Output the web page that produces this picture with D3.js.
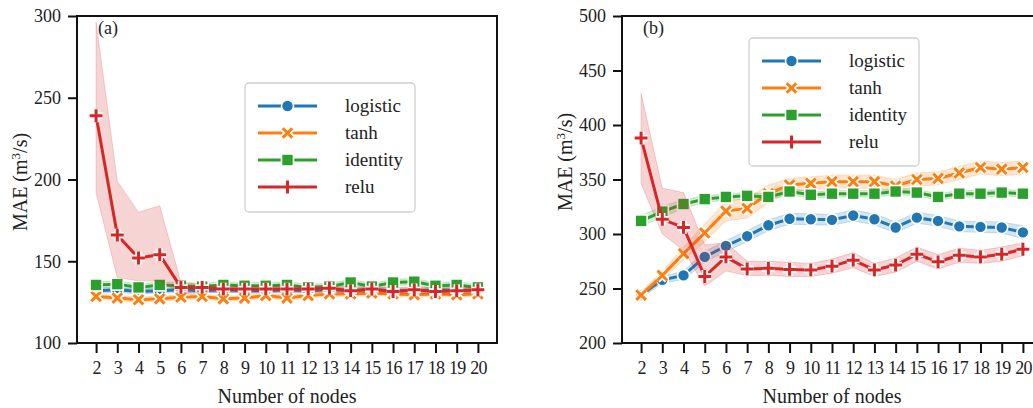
<!DOCTYPE html>
<html>
<head>
<meta charset="utf-8">
<script src="https://cdn.jsdelivr.net/npm/d3@7"></script>
<style>
  body { margin: 0; background: #fff; }
  text { font-family: "Liberation Serif", "Times New Roman", serif; fill: #222; }
</style>
</head>
<body>
<script>
// number of hidden nodes (x axis)
var nodes = [2,3,4,5,6,7,8,9,10,11,12,13,14,15,16,17,18,19,20];
var seriesNames = ["logistic", "tanh", "identity", "relu"];
var colors = ["#1f77b4", "#ff7f0e", "#2ca02c", "#d62728"];

// panel (a)
var yTicksA = [100,150,200,250,300];
var logisticA = [132,132.5,131.5,132,132.5,132,132.5,132,132,132.5,132,132.5,132,132.5,132,132,132.5,132,132];
var tanhA     = [128.5,127.5,126.5,127,128,128.5,127,127.5,129,127.5,129,130,130,130.5,130,129.5,130,129.5,130];
var identityA = [135.5,136,134,135.5,135,134.5,135.5,135,135,135.5,134,134.5,137,134.5,137,137.5,135,135.5,134];
var reluA     = [239,166,152,154,134,134,133,133,133,133,133,133.5,132,133,131.5,132.5,131.5,132,132.5];
var ciLogisticA = [1.5,1.5,1.5,1.5,1.5,1.5,1.5,1.5,1.5,1.5,1.5,1.5,1.5,1.5,1.5,1.5,1.5,1.5,1.5];
var ciTanhA     = [1.5,1.5,1.5,1.5,1.5,1.5,1.5,1.5,1.5,1.5,1.5,1.5,1.5,1.5,1.5,1.5,1.5,1.5,1.5];
var ciIdentityA = [2,2,2,2,2,2,2,2,2,2,2,2,2,2,2,2,2,2,2];
var reluALow  = [192,140,138,138,130,131,131,131,131,131,131,131.5,130,131,129.5,130.5,129.5,130,130.5];
var reluAHigh = [296,199,180,184,137,136,135,135,135,135,135,135.5,134,135,133.5,134.5,133.5,134,134.5];

// panel (b)
var yTicksB = [200,250,300,350,400,450,500];
var logisticB = [244,258,262,279,289,298,308,314,313.5,313,317,313.5,306,315,312,307,306.5,306,301.5];
var tanhB     = [244,262,282,301,321,323.5,337,345,346.5,348,348,348,344,350,351,356,361,359.5,361];
var identityB = [312,320.5,327.5,332,334,335,334,339,336,337,337,337,339,338,334,337,337,338,337];
var reluB     = [388,313.5,306,261,279,268,268.5,267.5,267,270.5,276,267,271.5,281.5,274.5,280.5,279,281.5,286];
var ciLogisticB = [3,3,4,5,5,5,5,5,5,5,5,5,5,5,5,5,5,5,6];
var ciTanhB     = [3,4,6,8,9,9,8,6,6,6,6,6,6,6,6,6,6,6,6];
var ciIdentityB = [5,5,4,3,3,3,3,3,3,3,3,3,3,3,3,3,3,3,3];
var reluBLow  = [346,300,285,252,266,262,262,261,261,264,269,261,265,275,268,274,273,275,280];
var reluBHigh = [429,342,338,290,292,275,275,274,273,277,283,273,278,288,281,287,285,288,292];

function sym(vals, ci) {
    return { vals: vals,
             lo: vals.map(function(v, i) { return v - ci[i]; }),
             hi: vals.map(function(v, i) { return v + ci[i]; }) };
}

var panels = [
    { label: "(a)", x0: 77, x1: 497, domain: [100, 300], ticks: yTicksA,
      series: [sym(logisticA, ciLogisticA), sym(tanhA, ciTanhA), sym(identityA, ciIdentityA),
               { vals: reluA, lo: reluALow, hi: reluAHigh }],
      legend: { x: 245, y: 83, w: 170, h: 129 }, ylabY: 182 },
    { label: "(b)", x0: 622, x1: 1042, domain: [200, 500], ticks: yTicksB,
      series: [sym(logisticB, ciLogisticB), sym(tanhB, ciTanhB), sym(identityB, ciIdentityB),
               { vals: reluB, lo: reluBLow, hi: reluBHigh }],
      legend: { x: 749, y: 38, w: 170, h: 128 }, ylabY: 162 }
];

var W = 1033, H = 408, plotTop = 16, plotBottom = 343;
var serif = "Liberation Serif";

var svg = d3.select("body").append("svg")
    .attr("width", W).attr("height", H);

function drawMarker(g, kind, color, x, y) {
    if (kind == 0) {
        g.append("circle").attr("cx", x).attr("cy", y).attr("r", 6)
            .attr("fill", color).attr("stroke", "#fff").attr("stroke-width", 1.6);
    } else if (kind == 2) {
        g.append("rect").attr("x", x - 6).attr("y", y - 6).attr("width", 12).attr("height", 12)
            .attr("fill", color).attr("stroke", "#fff").attr("stroke-width", 1.6);
    } else {
        var a = kind == 1 ? 4.8 : 6.4;
        var d = kind == 1
            ? "M" + (x - a) + "," + (y - a) + "L" + (x + a) + "," + (y + a) + "M" + (x - a) + "," + (y + a) + "L" + (x + a) + "," + (y - a)
            : "M" + (x - a) + "," + y + "L" + (x + a) + "," + y + "M" + x + "," + (y - a) + "L" + x + "," + (y + a);
        g.append("path").attr("d", d).attr("stroke", "#fff").attr("stroke-width", 6.4).attr("fill", "none");
        g.append("path").attr("d", d).attr("stroke", color).attr("stroke-width", 3).attr("fill", "none");
    }
}

panels.forEach(function(p) {
    var x = d3.scaleLinear().domain([1.1, 20.9]).range([p.x0, p.x1]);
    var y = d3.scaleLinear().domain(p.domain).range([plotBottom, plotTop]);
    var g = svg.append("g").attr("font-family", serif);

    p.series.forEach(function(s, k) {
        var area = d3.area()
            .x(function(d, i) { return x(nodes[i]); })
            .y0(function(d, i) { return y(s.lo[i]); })
            .y1(function(d, i) { return y(s.hi[i]); });
        g.append("path").datum(s.vals).attr("d", area)
            .attr("fill", colors[k]).attr("fill-opacity", 0.2)
            .attr("stroke", colors[k]).attr("stroke-opacity", 0.2).attr("stroke-width", 1);
        var line = d3.line()
            .x(function(d, i) { return x(nodes[i]); })
            .y(function(d) { return y(d); });
        g.append("path").datum(s.vals).attr("d", line)
            .attr("fill", "none").attr("stroke", colors[k]).attr("stroke-width", 3);
        var mg = g.append("g");
        s.vals.forEach(function(v, i) { drawMarker(mg, k, colors[k], x(nodes[i]), y(v)); });
    });

    // axes
    var xAxis = d3.axisBottom(x).tickValues(nodes).tickSize(10).tickPadding(8);
    var yAxis = d3.axisLeft(y).tickValues(p.ticks).tickSize(9).tickPadding(7);
    var gx = g.append("g").attr("transform", "translate(0," + plotBottom + ")").call(xAxis);
    var gy = g.append("g").attr("transform", "translate(" + p.x0 + ",0)").call(yAxis);
    [gx, gy].forEach(function(a) {
        a.attr("font-family", serif).attr("font-size", 18);
        a.select(".domain").remove();
        a.selectAll("line").attr("stroke", "#111").attr("stroke-width", 2);
        a.selectAll("text").attr("fill", "#222");
    });
    gx.selectAll("text").attr("letter-spacing", -0.8);
    g.append("rect").attr("x", p.x0).attr("y", plotTop).attr("width", p.x1 - p.x0).attr("height", plotBottom - plotTop)
        .attr("fill", "none").attr("stroke", "#111").attr("stroke-width", 2);

    g.append("text").attr("x", (p.x0 + p.x1) / 2).attr("y", 403).attr("text-anchor", "middle")
        .style("font-size", "20px").text("Number of nodes");
    var yl = g.append("text").attr("transform", "translate(" + (p.x0 - 50) + "," + p.ylabY + ") rotate(-90)")
        .attr("text-anchor", "middle").style("font-size", "20px");
    yl.append("tspan").text("MAE (m");
    yl.append("tspan").attr("dy", -7).style("font-size", "13px").text("3");
    yl.append("tspan").attr("dy", 7).text("/s)");

    g.append("text").attr("x", p.x0 + 21).attr("y", 34).style("font-size", "18px").text(p.label);

    // legend
    var L = p.legend;
    g.append("rect").attr("x", L.x).attr("y", L.y).attr("width", L.w).attr("height", L.h)
        .attr("rx", 4).attr("fill", "#fff").attr("fill-opacity", 0.85)
        .attr("stroke", "#d0d0d0").attr("stroke-width", 1.3);
    seriesNames.forEach(function(name, k) {
        var ly = L.y + 23 + k * 27;
        g.append("line").attr("x1", L.x + 13).attr("x2", L.x + 72).attr("y1", ly).attr("y2", ly)
            .attr("stroke", colors[k]).attr("stroke-width", 3);
        drawMarker(g, k, colors[k], L.x + 42.5, ly);
        g.append("text").attr("x", L.x + 100).attr("y", ly + 6).style("font-size", "19px").text(name);
    });
});
</script>
</body>
</html>
